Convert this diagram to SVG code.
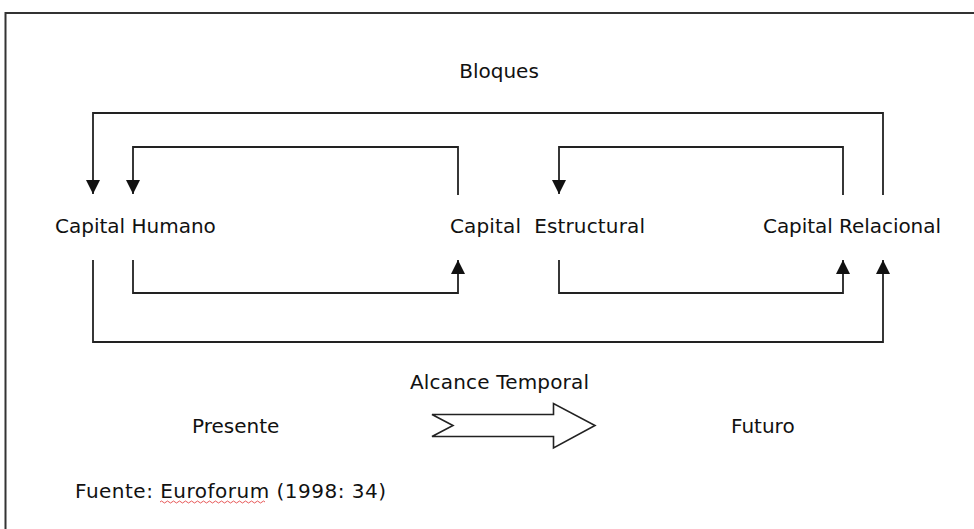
<svg xmlns="http://www.w3.org/2000/svg" width="974" height="529" viewBox="0 0 974 529">
  <style>
    text { font-family: "DejaVu Sans", Verdana, sans-serif; font-size: 20px; fill: #111; }
    .frame { fill: none; stroke: #333; stroke-width: 2; }
    .link { fill: none; stroke: #222; stroke-width: 1.8; }
    .block { fill: #fff; stroke: #222; stroke-width: 1.6; stroke-linejoin: miter; }
    .spell { fill: none; stroke: #e03030; stroke-width: 0.8; }
  </style>
  <defs>
    <marker id="head" viewBox="0 0 14 14" refX="14" refY="7" markerWidth="14" markerHeight="14" markerUnits="userSpaceOnUse" orient="auto">
      <path d="M0,0 L14,7 L0,14 Z" fill="#111"/>
    </marker>
  </defs>

  <rect width="974" height="529" fill="#fff"/>
  <!-- page frame -->
  <path class="frame" d="M5.5,529 V13 H974"/>

  <text x="499" y="78" text-anchor="middle">Bloques</text>

  <g id="capital-humano"><text x="55" y="233">Capital Humano</text></g>
  <g id="capital-estructural"><text x="450" y="233" xml:space="preserve" textLength="195">Capital  Estructural</text></g>
  <g id="capital-relacional"><text x="763" y="233" textLength="178">Capital Relacional</text></g>

  <g id="connectors">
    <!-- outer loop: Relacional -> Humano (top) -->
    <path class="link" d="M883,195 V113 H93 V194" marker-end="url(#head)"/>
    <!-- Estructural -> Humano (top) -->
    <path class="link" d="M458,195 V147 H133 V194" marker-end="url(#head)"/>
    <!-- Relacional -> Estructural (top) -->
    <path class="link" d="M843,195 V147 H559 V194" marker-end="url(#head)"/>
    <!-- Humano -> Estructural (bottom) -->
    <path class="link" d="M133,260 V293 H458 V260" marker-end="url(#head)"/>
    <!-- Estructural -> Relacional (bottom) -->
    <path class="link" d="M559,260 V293 H843 V260" marker-end="url(#head)"/>
    <!-- outer loop: Humano -> Relacional (bottom) -->
    <path class="link" d="M93,260 V342 H883 V260" marker-end="url(#head)"/>
  </g>

  <text x="410" y="389" textLength="179">Alcance Temporal</text>
  <g id="presente"><text x="192" y="433">Presente</text></g>
  <g id="futuro"><text x="731" y="433">Futuro</text></g>

  <!-- time-span block arrow -->
  <path class="block" d="M432,414.5 H553.5 V403.5 L595,425.5 L553.5,448 V436.5 H432 L453,425.5 Z"/>

  <text x="75" y="498" textLength="311">Fuente: Euroforum (1998: 34)</text>
  <path class="spell" d="M160,502 q1.5,-2 3,0 t3,0 t3,0 t3,0 t3,0 t3,0 t3,0 t3,0 t3,0 t3,0 t3,0 t3,0 t3,0 t3,0 t3,0 t3,0 t3,0 t3,0 t3,0 t3,0 t3,0 t3,0 t3,0 t3,0 t3,0 t3,0 t3,0 t3,0 t3,0 t3,0 t3,0 t3,0 t3,0 t3,0 t3,0"/>
</svg>
